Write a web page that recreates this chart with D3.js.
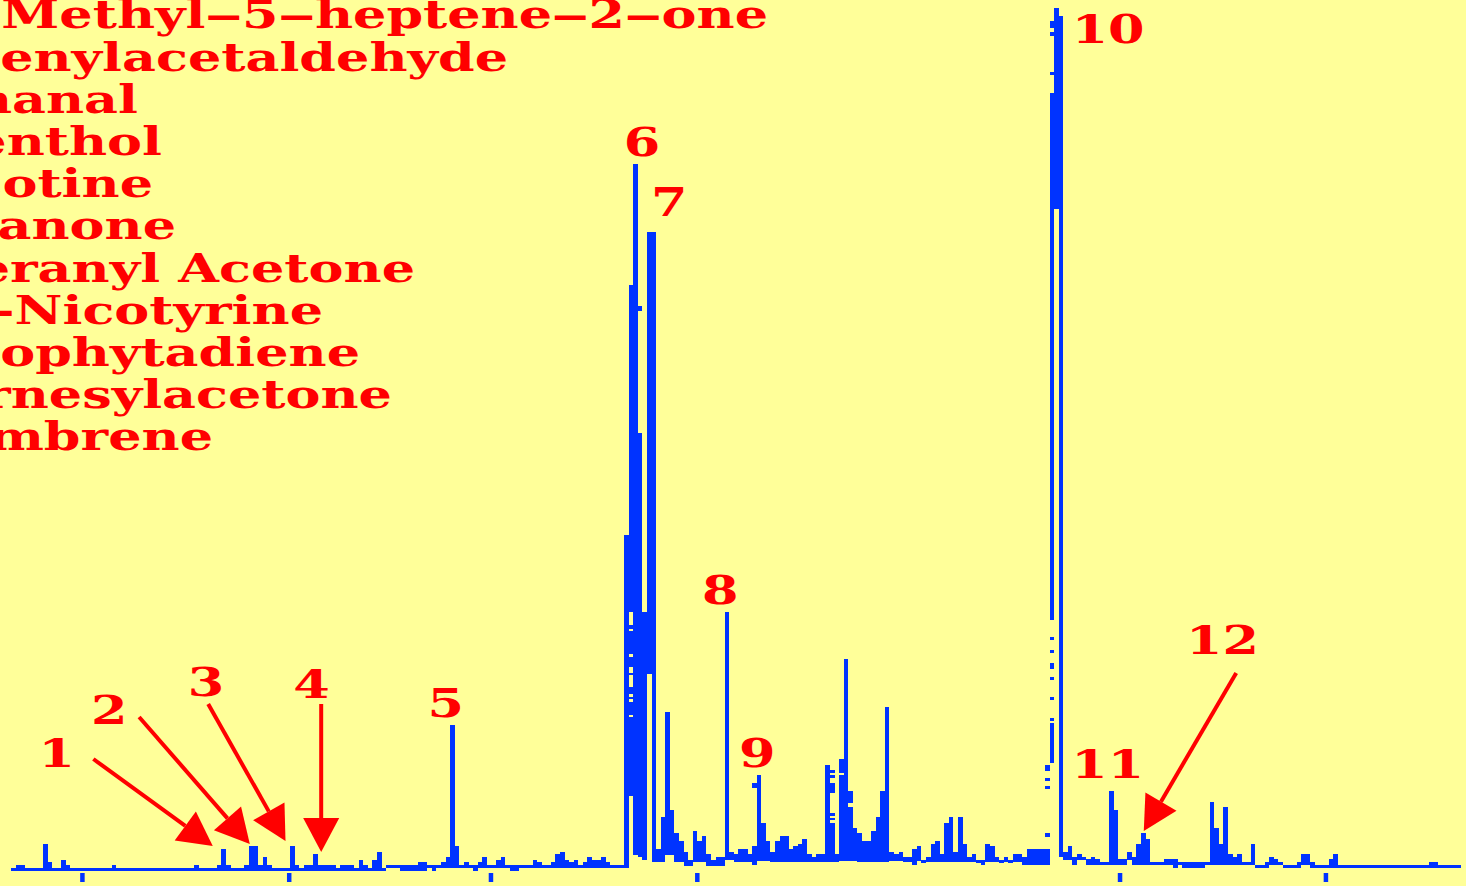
<!DOCTYPE html>
<html>
<head>
<meta charset="utf-8">
<script src="https://cdn.jsdelivr.net/npm/d3@7"></script>
<style>
  html, body { margin: 0; padding: 0; background: #ffff99; overflow: hidden; }
  svg { display: block; }
</style>
</head>
<body>
<svg id="chart" width="1466" height="886"></svg>
<script>
// compound list, numbered like the peaks (cut off at the left edge as in the original)
const compounds = [
  "1. 6‒Methyl‒5‒heptene‒2‒one", "2. Phenylacetaldehyde", "3. Nonanal", "4. Menthol",
  "5. Nicotine", "6. Solanone", "7. Geranyl Acetone", "8. β-Nicotyrine",
  "9. Neophytadiene", "10. Farnesylacetone", "11. Cembrene"
];

// TIC trace, one value per scan column: top (hi) and bottom (lo) of the column
const hi = [
  0,3,3,0,0,0,0,24,6,0,  0,8,3,0,0,0,0,0,0,0,  0,0,3,0,0,0,0,0,0,0,  0,0,0,0,0,0,0,0,0,0,
  3,0,0,0,0,3,19,3,0,0,  0,3,22,22,3,11,3,0,0,0,  0,22,3,0,3,3,14,3,3,3,  3,0,3,3,3,0,8,3,0,8,
  16,0,3,3,3,3,3,3,3,6,  6,3,3,3,6,11,143,22,3,6,  3,3,6,11,3,3,8,11,3,3,  3,3,3,3,8,6,3,3,6,14,
  16,8,6,8,3,6,11,8,8,11,  6,3,3,3,333,583,704,435,256,636,  636,19,51,156,58,35,27,16,8,37,
  27,32,14,8,11,11,256,16,14,19,  19,14,22,93,45,27,16,27,32,32,  19,22,24,29,14,11,14,14,103,98,
  14,109,209,77,40,35,27,27,37,51,  77,161,16,14,16,11,11,19,22,8,  11,24,27,14,45,51,16,51,24,11,
  14,8,8,24,22,11,8,11,8,14,  14,11,19,19,19,19,19,775,860,852,  16,22,11,14,11,9,11,9,6,6,
  77,58,9,9,16,11,24,35,29,6,  6,6,9,9,9,6,6,6,6,6,  6,6,66,40,24,61,14,11,14,6,
  6,24,3,3,6,11,9,6,3,3,  3,6,14,14,6,3,3,3,9,14,  3,3,3,3,3,3,3,3,3,3,  3,3,3,3,3,3,3,3,3,3,
  6,6,3,3,3,3,3
];
const lo = [
  0,0,0,0,0,0,0,0,0,0,  0,0,0,0,0,0,0,0,0,0,  0,0,0,0,0,0,0,0,0,0,  0,0,0,0,0,0,0,0,0,0,
  0,0,0,0,0,0,0,0,0,0,  0,0,0,0,0,0,0,0,0,0,  0,0,0,0,0,0,0,0,0,0,  0,0,0,0,0,0,0,0,0,0,
  0,0,3,3,3,0,0,0,0,0,  0,3,0,3,3,3,3,3,3,3,  3,0,3,3,3,3,3,3,3,0,  0,3,3,3,3,3,3,3,3,3,
  3,3,3,3,3,3,3,3,3,3,  3,3,3,3,3,75,16,14,11,197,  9,9,9,16,16,9,9,5,5,9,
  9,9,5,5,5,5,11,11,9,9,  9,9,6,10,10,10,9,9,9,9,  9,9,9,9,9,9,9,9,9,9,
  9,10,10,10,10,9,9,9,9,9,  9,9,10,10,10,9,9,6,10,8,  9,9,9,9,9,9,9,9,9,9,
  9,8,6,9,9,9,8,9,8,9,  9,6,6,6,6,6,6,251,662,14,  11,11,6,11,11,6,6,6,6,6,
  6,6,6,6,11,6,6,6,6,6,  6,6,6,6,3,6,3,3,3,3,  3,6,6,6,6,6,6,6,6,6,
  6,6,3,3,3,6,6,6,3,3,  3,3,6,6,3,3,3,3,3,3,  3,3,3,3,3,3,3,3,3,3,  3,3,3,3,3,3,3,3,3,3,
  3,3,3,3,3,3,3
];

// detached pieces of the trace (scan, hi, lo) and holes inside columns (scan, top, bottom)
const fragScan = [227,227,227,227,227,227,227,227,227,227,226,226,226,226,162,137];
const fragHi   = [847,836,796,231,218,205,191,171,150,145,103,90,82,35,85,562];
const fragLo   = [843,835,796,231,218,202,191,171,150,108,100,90,82,34,83,560];
const gapScan   = [135,135,135,135,135,135,135,135,179,179,179,179,179,181,183];
const gapTop    = [256,239,214,201,193,174,169,153,95,90,75,52,48,95,65];
const gapBottom = [243,237,211,195,181,171,166,151,93,85,55,50,45,93,61];

// x axis ticks (scan number), no labels in the original
const tickScans = [15.5, 60.7, 104.8, 149.9, 242.3, 287.3];

// peak numbers and where they sit (scan, abundance)
const peakIds = ["1","2","3","4","5","6","7","8","9","10","11","12"];
const peakLabelScan = [10.0, 21.5, 42.6, 65.7, 95.0, 137.9, 143.9, 155.0, 163.1, 239.8, 239.7, 264.8];
const peakLabelAbund = [101, 144, 172, 170, 151, 712, 652, 264, 101, 825, 90, 214];

// arrows for the small peaks: start and tip (scan, abundance)
const arrowFromScan = [18.0, 28.0, 43.1, 67.8, 267.8];
const arrowFromAbund = [109, 151, 164, 164, 195];
const arrowToScan = [44.1, 52.2, 60.0, 67.8, 247.6];
const arrowToAbund = [22, 24, 27, 16, 37];

const BLUE = "#0033ff", RED = "#ff0000", BG = "#ffff99";
const FONT = "'DejaVu Serif', 'Liberation Serif', serif";
const LINE = 2.5;

const svg = d3.select("#chart");
svg.append("rect").attr("width", 1466).attr("height", 886).attr("fill", BG);

const x = d3.scaleLinear().domain([0, hi.length]).range([11, 1461.3]);
const y = d3.scaleLinear().domain([0, 860]).range([868, 8]);

const colX = i => Math.round(x(i));
const colW = i => Math.round(x(i + 1)) - Math.round(x(i));

// trace
const cols = hi.map((h, i) => ({ i, top: Math.max(h, lo[i]), bot: Math.min(h, lo[i]) }));
svg.append("g").attr("shape-rendering", "crispEdges")
  .selectAll("rect").data(cols).join("rect")
  .attr("x", d => colX(d.i))
  .attr("width", d => colW(d.i))
  .attr("y", d => y(d.top))
  .attr("height", d => y(d.bot) - y(d.top) + LINE)
  .attr("fill", BLUE);

svg.append("g").attr("shape-rendering", "crispEdges")
  .selectAll("rect").data(fragScan.map((s, k) => ({ i: s, top: fragHi[k], bot: fragLo[k] })))
  .join("rect")
  .attr("x", d => colX(d.i))
  .attr("width", d => colW(d.i))
  .attr("y", d => y(d.top))
  .attr("height", d => y(d.bot) - y(d.top) + LINE)
  .attr("fill", BLUE);

svg.append("g").attr("shape-rendering", "crispEdges")
  .selectAll("rect").data(gapScan.map((s, k) => ({ i: s, top: gapTop[k], bot: gapBottom[k] })))
  .join("rect")
  .attr("x", d => colX(d.i))
  .attr("width", d => colW(d.i))
  .attr("y", d => y(d.top))
  .attr("height", d => y(d.bot) - y(d.top))
  .attr("fill", BG);

// ticks
const gAxis = svg.append("g").attr("transform", "translate(0,873)")
  .call(d3.axisBottom(x).tickValues(tickScans).tickFormat("").tickSizeInner(9).tickSizeOuter(0));
gAxis.select(".domain").remove();
gAxis.selectAll(".tick line").attr("stroke", BLUE).attr("stroke-width", 4.5);

// horizontal stretch so the serif font is as wide as the bitmap one
const probe = svg.append("text").attr("font-family", FONT).attr("font-weight", "bold")
  .attr("font-size", 39).text("enylacetaldehyde");
const sx = 508 / probe.node().getComputedTextLength();
probe.remove();

// compound list
const listRight = [768, 508, 138, 162, 153, 176, 415, 323, 360, 392, 213];
svg.append("g").selectAll("text").data(compounds).join("text")
  .attr("transform", (d, i) => `translate(${listRight[i]},${28.3 + i * 42.2}) scale(${sx},1)`)
  .attr("text-anchor", "end")
  .attr("font-family", FONT).attr("font-weight", "bold").attr("font-size", 39)
  .attr("fill", RED)
  .text(d => d);

// arrows
const arrows = arrowFromScan.map((s, k) => {
  const x0 = x(s), y0 = y(arrowFromAbund[k]);
  const x1 = x(arrowToScan[k]), y1 = y(arrowToAbund[k]);
  const len = Math.hypot(x1 - x0, y1 - y0);
  const ux = (x1 - x0) / len, uy = (y1 - y0) / len;
  const headL = 34, headW = 36;
  const bx = x1 - ux * headL, by = y1 - uy * headL;
  return {
    x0, y0, bx, by,
    head: [[x1, y1], [bx - uy * headW / 2, by + ux * headW / 2], [bx + uy * headW / 2, by - ux * headW / 2]]
  };
});
const ga = svg.append("g");
ga.selectAll("line").data(arrows).join("line")
  .attr("x1", d => d.x0).attr("y1", d => d.y0)
  .attr("x2", d => d.bx).attr("y2", d => d.by)
  .attr("stroke", RED).attr("stroke-width", 4);
ga.selectAll("polygon").data(arrows).join("polygon")
  .attr("points", d => d.head.map(p => p.join(",")).join(" "))
  .attr("fill", RED);

// peak numbers
svg.append("g").selectAll("text").data(peakIds).join("text")
  .attr("transform", (d, k) => `translate(${x(peakLabelScan[k])},${y(peakLabelAbund[k])}) scale(${sx},1)`)
  .attr("text-anchor", "middle")
  .attr("font-family", FONT).attr("font-weight", "bold").attr("font-size", 39)
  .attr("fill", RED)
  .text(d => d);
</script>
</body>
</html>
